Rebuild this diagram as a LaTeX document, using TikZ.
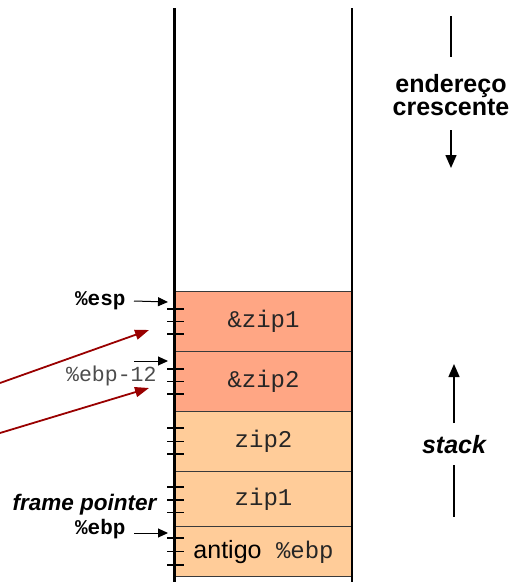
\documentclass[tikz,border=0pt]{standalone}
\usepackage{fontspec}
\setmainfont{Liberation Sans}
\setmonofont{Liberation Mono}
\usetikzlibrary{arrows.meta}
\definecolor{salmon}{RGB}{255,166,132}
\definecolor{peach}{RGB}{255,204,153}
\definecolor{cellline}{RGB}{58,58,58}
\definecolor{darkred}{RGB}{153,0,0}
\begin{document}
\begin{tikzpicture}[x=1pt,y=-1pt,
  cell/.style={draw=cellline, line width=1.1pt, minimum width=178pt,
    anchor=north west, inner sep=0pt, text=black!85,
    font=\fontsize{24}{26}\selectfont\ttfamily},
  hot/.style={cell, fill=salmon},
  warm/.style={cell, fill=peach},
  ptr/.style={line width=1pt, -{Triangle[length=10pt,width=9pt]}},
  bigptr/.style={line width=1.4pt, -{Triangle[length=13pt,width=11pt]}},
  ref/.style={darkred, line width=1.8pt, -{Triangle[length=14pt,width=10pt]}},
  boldsans/.style={font=\fontsize{25}{23.5}\selectfont\bfseries, align=center},
  reglabel/.style={font=\fontsize{21}{24}\selectfont\bfseries\ttfamily},
  tick/.style={line width=1.4pt}]
\useasboundingbox (0,0) rectangle (515,582);

% stack cells, top to bottom
\node[hot,  minimum height=60pt] (c1) at (174,291) {\&zip1};
\node[hot,  minimum height=60pt] (c2) at (174,351) {\&zip2};
\node[warm, minimum height=60pt] (c3) at (174,411) {zip2};
\node[warm, minimum height=55pt] (c4) at (174,471) {zip1};
\node[warm, minimum height=50pt] (c5) at (174,526)
  {{\rmfamily\color{black}\fontsize{25}{26}\selectfont antigo} \%ebp};

% column walls
\draw[line width=3pt] (174,8) -- (174,582);
\draw[line width=2pt] (352,8) -- (352,582);

% word ticks on the left wall
\foreach \y in {309,321.5,334, 369,381.5,394, 428,441.5,454, 487,500,512.5, 538,551.5,565}
  \draw[tick] (167,\y) -- (184,\y);

% register labels and pointers
\node[reglabel, anchor=east] (esp) at (129,301) {\%esp};
\coordinate (espTip) at (168,302);
\draw[ptr] (esp.east -| 134,0) -- (espTip);

\node[font=\fontsize{21.5}{24}\selectfont\ttfamily, text=black!70, anchor=east] (ebp12) at (160,376) {\%ebp-12};
\coordinate (e12From) at (134,361);
\coordinate (e12Tip) at (168,361);
\draw[ptr] (e12From) -- (e12Tip);

\node[font=\fontsize{22.5}{24}\selectfont\bfseries\itshape, anchor=east] (fp) at (160,505) {frame pointer};
\node[reglabel, anchor=east] (ebp) at (129,529) {\%ebp};
\coordinate (ebpTip) at (168,533);
\draw[ptr] (ebp.east |- ebpTip) ++(5,0) -- (ebpTip);

% references into the stack
\coordinate (r1From) at (0,383);
\coordinate (r1Tip) at (149,330);
\coordinate (r2From) at (0,433);
\coordinate (r2Tip) at (149,388);
\draw[ref] (r1From) -- (r1Tip);
\draw[ref] (r2From) -- (r2Tip);

% address direction
\node[boldsans] (addr) at (451,95) {endereço\\crescente};
\coordinate (addrTop) at (451,16);
\coordinate (addrTopEnd) at (451,57);
\coordinate (addrDown) at (451,130);
\coordinate (addrTip) at (451,168);
\draw[line width=1.4pt] (addrTop) -- (addrTopEnd);
\draw[bigptr] (addrDown) -- (addrTip);

% stack growth direction
\node[font=\fontsize{25}{24}\selectfont\bfseries\itshape] (stk) at (454,445) {stack};
\coordinate (stkUp) at (454,423);
\coordinate (stkTip) at (454,364);
\coordinate (stkLow) at (454,465);
\coordinate (stkLowEnd) at (454,517);
\draw[bigptr] (stkUp) -- (stkTip);
\draw[line width=1.4pt] (stkLow) -- (stkLowEnd);
\end{tikzpicture}
\end{document}
